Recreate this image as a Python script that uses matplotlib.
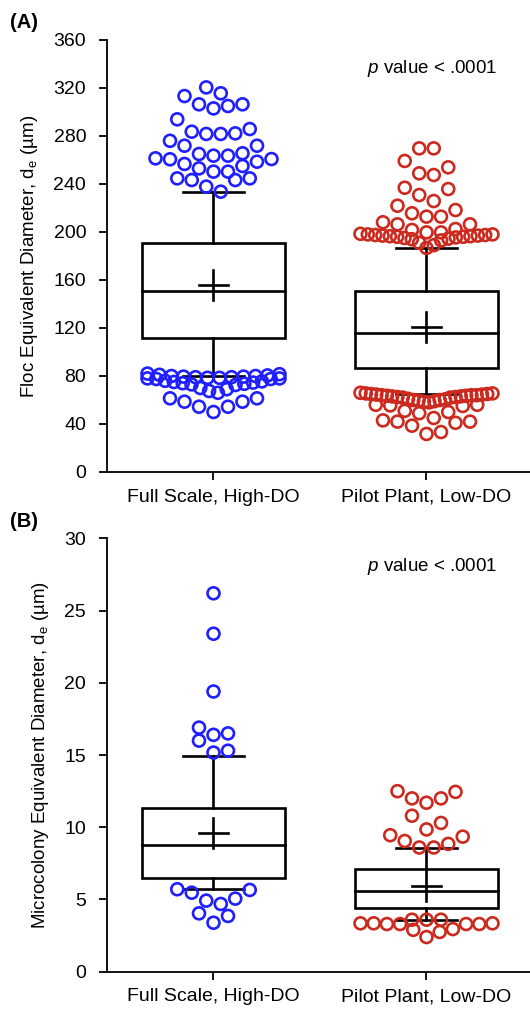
import numpy as np
import matplotlib
matplotlib.use("Agg")
import matplotlib.pyplot as plt

plt.rcParams['font.family'] = ['Liberation Sans', 'DejaVu Sans']
plt.rcParams['mathtext.fontset'] = 'custom'
plt.rcParams['mathtext.rm'] = 'Liberation Sans'
plt.rcParams['mathtext.it'] = 'Liberation Sans:italic'
plt.rcParams['mathtext.bf'] = 'Liberation Sans:bold'

groups = ["Full Scale, High-DO", "Pilot Plant, Low-DO"]
colors = ["#1f1fff", "#cc2a1e"]

# ---- Panel A: floc equivalent diameter (um) ----
floc_whisker_low = [80.3, 65.0]
floc_q1 = [112.0, 86.4]
floc_median = [150.8, 115.6]
floc_q3 = [190.6, 150.8]
floc_whisker_high = [233.6, 186.7]
floc_mean = [155.8, 121.0]

floc_full_high = [320.5, 313.3, 315.6, 303.0, 306.4, 306.4, 305.0, 293.9,
                  283.6, 281.7, 276.0, 281.7, 282.2, 285.8, 271.9, 271.9,
                  261.4, 260.6, 265.6, 263.6, 263.6, 265.0, 258.6, 260.8,
                  256.7, 253.0, 250.3, 250.3, 255.0, 244.7, 243.3, 243.3,
                  244.7, 237.8, 233.6]
floc_full_low = [50.0, 54.4, 54.4, 58.6, 58.6, 61.4, 61.4,
                 66.0, 67.5, 69.0, 70.0,
                 72.5, 73.0, 73.5, 74.0, 74.5, 75.0, 75.5, 76.0,
                 77.5, 77.5, 78.0, 78.0, 78.5, 78.5, 79.0, 79.0,
                 79.5, 79.5, 80.0, 80.0, 80.5, 81.0, 81.5, 82.0]
floc_pilot_high = [269.7, 269.7, 259.2, 253.9, 248.9, 247.5, 236.9, 235.8,
                   230.8, 225.8, 221.9, 218.3, 215.6, 212.8, 212.8, 208.1,
                   206.4, 206.4, 202.5, 201.7, 199.7, 199.7,
                   198.5, 198.0, 198.0, 197.5, 197.5, 197.0, 197.0, 196.5,
                   196.5, 196.0, 196.0, 195.5, 195.0, 194.5, 194.0, 193.0,
                   191.0, 189.0, 186.7]
floc_pilot_low = [31.7, 33.3, 38.6, 41.0, 42.0, 42.0, 43.0, 45.0,
                  49.0, 50.0, 51.0, 55.0, 55.5, 56.0, 56.0,
                  58.0, 58.5, 59.0, 59.5, 60.0, 60.0, 60.5, 61.0,
                  62.0, 62.0, 62.5, 62.5, 63.0, 63.0, 63.5, 63.5,
                  64.0, 64.0, 64.0, 64.5, 64.5, 65.0, 65.0, 65.5, 65.5, 66.0]

# ---- Panel B: microcolony equivalent diameter (um) ----
micro_whisker_low = [5.70, 3.58]
micro_q1 = [6.46, 4.39]
micro_median = [8.77, 5.59]
micro_q3 = [11.31, 7.09]
micro_whisker_high = [14.94, 8.59]
micro_mean = [9.58, 5.94]

micro_full_high = [26.2, 23.4, 19.4, 16.9, 16.5, 16.4, 16.0, 15.3, 15.17]
micro_full_low = [5.71, 5.66, 5.47, 5.06, 4.92, 4.69, 4.04, 3.86, 3.39]
micro_pilot_high = [12.5, 12.0, 11.7, 12.0, 12.45, 10.8, 10.3, 9.85,
                    9.35, 8.85, 8.6, 8.6, 9.05, 9.45]
micro_pilot_low = [3.35, 3.3, 3.3, 3.35, 3.3, 3.3, 3.35, 3.6, 3.6, 3.6,
                   2.95, 2.9, 2.75, 2.4]

y_ticks_a = [0, 40, 80, 120, 160, 200, 240, 280, 320, 360]
y_ticks_b = [0, 5, 10, 15, 20, 25, 30]

W, H = 530, 1011
fig = plt.figure(figsize=(W / 100, H / 100), dpi=100)

BOX_HALF = 0.336
CAP_HALF = 0.143
MEAN_HALF_X = 0.07
MEAN_HALF_PX = 15
LW = 1.9
DIAM_PX = 14.5
BIN_PX = 15.0
MAX_SPAN_PX = 132.0


def swarm_x(ax, center, values):
    vals = np.asarray(values, float)
    trans = ax.transData
    ypx = trans.transform(np.column_stack([np.full(vals.size, center), vals]))[:, 1]
    px_per_unit = trans.transform((center + 1, 0))[0] - trans.transform((center, 0))[0]
    order = np.argsort(ypx, kind="stable")
    offsets = np.zeros(vals.size)
    i = 0
    while i < len(order):
        start = ypx[order[i]]
        j = i
        while j < len(order) and ypx[order[j]] - start < BIN_PX:
            j += 1
        members = order[i:j]
        n = len(members)
        step = DIAM_PX if n < 2 else min(DIAM_PX, MAX_SPAN_PX / (n - 1))
        for k, idx in enumerate(members):
            if n % 2:
                slot = 0 if k == 0 else ((k + 1) // 2) * (1 if k % 2 else -1)
            else:
                slot = (k // 2 + 0.5) * (1 if k % 2 == 0 else -1)
            offsets[idx] = slot * step
        i = j
    return center + offsets / px_per_unit


def draw_panel(ax, letter, ylabel, yticks, wlo, q1, med, q3, whi, mean, points):
    ax.set_xlim(-0.5, 1.486)
    ax.set_ylim(yticks[0], yticks[-1])
    for s in ("top", "right"):
        ax.spines[s].set_visible(False)
    for s in ("left", "bottom"):
        ax.spines[s].set_linewidth(1.3)
    ax.set_yticks(yticks)
    ax.set_xticks(range(len(groups)))
    ax.set_xticklabels(groups, fontsize=14)
    ax.tick_params(axis="both", direction="out", length=6, width=1.3,
                   labelsize=14, colors="black")
    ax.tick_params(axis="x", pad=6)
    ax.tick_params(axis="y", pad=9)
    ax.set_ylabel(ylabel, fontsize=13.5, labelpad=10)

    ypp = (ax.transData.transform((0, yticks[-1]))[1]
           - ax.transData.transform((0, yticks[0]))[1]) / (yticks[-1] - yticks[0])
    mean_half_y = MEAN_HALF_PX / ypp

    for i in range(len(groups)):
        ax.add_patch(plt.Rectangle((i - BOX_HALF, q1[i]), 2 * BOX_HALF, q3[i] - q1[i],
                                   facecolor="white", edgecolor="black", lw=LW, zorder=2))
        ax.plot([i - BOX_HALF, i + BOX_HALF], [med[i], med[i]], color="black", lw=LW, zorder=3)
        ax.plot([i, i], [q3[i], whi[i]], color="black", lw=LW, zorder=2)
        ax.plot([i, i], [q1[i], wlo[i]], color="black", lw=LW, zorder=2)
        for c in (whi[i], wlo[i]):
            ax.plot([i - CAP_HALF, i + CAP_HALF], [c, c], color="black", lw=LW, zorder=2)
        ax.plot([i - MEAN_HALF_X, i + MEAN_HALF_X], [mean[i], mean[i]], color="black", lw=LW, zorder=3)
        ax.plot([i, i], [mean[i] - mean_half_y, mean[i] + mean_half_y], color="black", lw=LW, zorder=3)

    for i, (hi_pts, lo_pts) in enumerate(points):
        for pts in (hi_pts, lo_pts):
            xs = swarm_x(ax, i, pts)
            ax.scatter(xs, pts, s=74, facecolors="none", edgecolors=colors[i],
                       linewidths=1.9, zorder=4, clip_on=False)

    ax.text(0.768, 0.935, r"$p$ value < .0001", transform=ax.transAxes,
            ha="center", va="center", fontsize=13.5)
    fig.text(10 / W, ax.get_position().y1 + 17 / H, letter, fontsize=14.5,
             fontweight="bold", ha="left", va="center")


left = 107 / W
width = (W - 107) / W
ax_a = fig.add_axes([left, 1 - 472 / H, width, 432 / H])
ax_b = fig.add_axes([left, 1 - 971.7 / H, width, 433.3 / H])

draw_panel(ax_a, "(A)", r"Floc Equivalent Diameter, d$_\mathrm{e}$ (µm)", y_ticks_a,
           floc_whisker_low, floc_q1, floc_median, floc_q3, floc_whisker_high, floc_mean,
           [(floc_full_high, floc_full_low), (floc_pilot_high, floc_pilot_low)])
draw_panel(ax_b, "(B)", r"Microcolony Equivalent Diameter, d$_\mathrm{e}$ (µm)", y_ticks_b,
           micro_whisker_low, micro_q1, micro_median, micro_q3, micro_whisker_high, micro_mean,
           [(micro_full_high, micro_full_low), (micro_pilot_high, micro_pilot_low)])

fig.savefig("out.png", dpi=100, facecolor="white")
